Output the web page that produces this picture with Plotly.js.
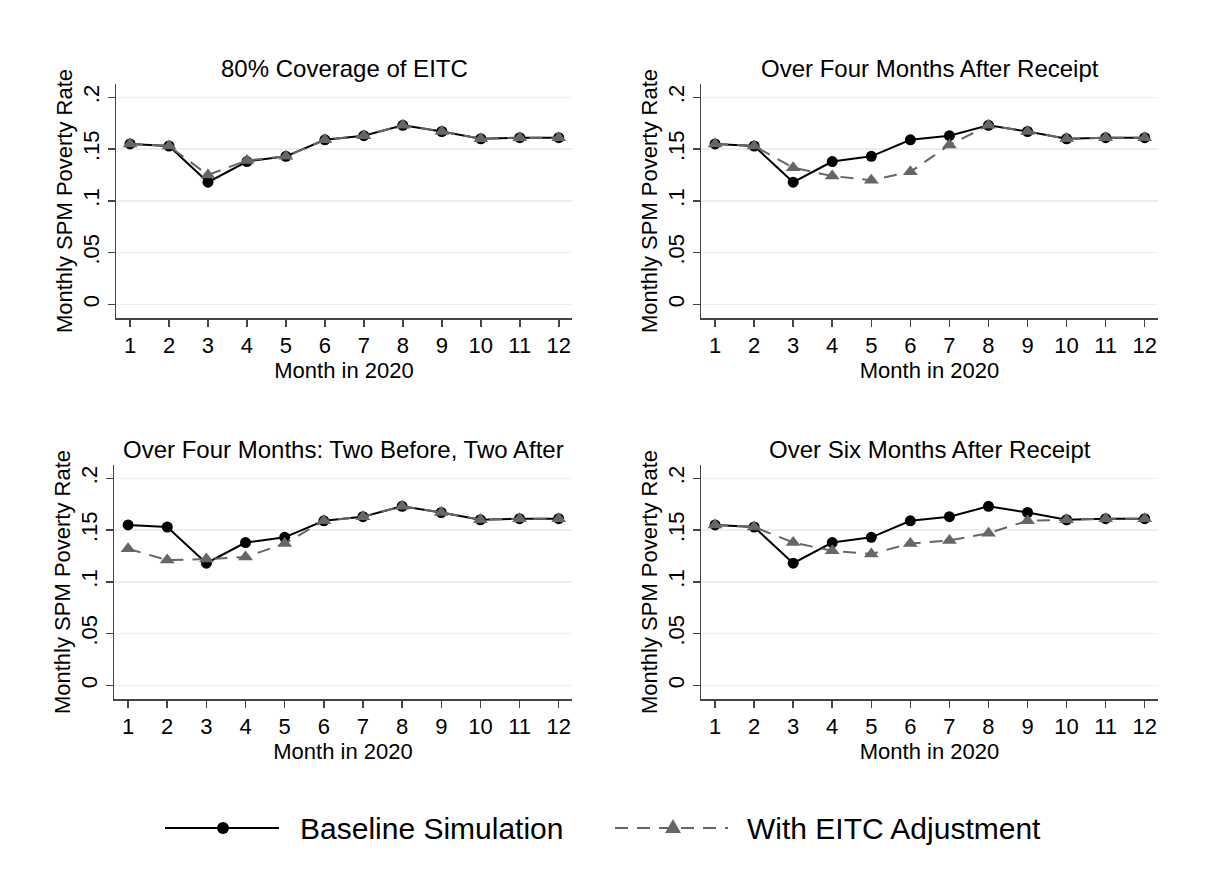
<!DOCTYPE html>
<html>
<head>
<meta charset="utf-8">
<script src="https://cdn.plot.ly/plotly-3.0.1.min.js"></script>
<style>
  html, body { margin: 0; padding: 0; background: #ffffff; }
  #chart { width: 1211px; height: 877px; }
</style>
</head>
<body>
<div id="chart"></div>
<script>
// Months of 2020
const months = [1, 2, 3, 4, 5, 6, 7, 8, 9, 10, 11, 12];

// Baseline monthly SPM poverty rate (same in every panel)
const baseline = [0.155, 0.153, 0.118, 0.138, 0.143, 0.159, 0.163, 0.173, 0.167, 0.160, 0.161, 0.161];

// Poverty rate with the EITC adjustment under each scenario
const eitcCoverage80   = [0.155, 0.153, 0.125, 0.139, 0.143, 0.159, 0.163, 0.173, 0.167, 0.160, 0.161, 0.161];
const eitcFourAfter    = [0.155, 0.153, 0.132, 0.124, 0.120, 0.128, 0.154, 0.173, 0.167, 0.160, 0.161, 0.161];
const eitcTwoBeforeTwoAfter = [0.132, 0.121, 0.122, 0.124, 0.137, 0.159, 0.163, 0.173, 0.167, 0.160, 0.161, 0.161];
const eitcSixAfter     = [0.155, 0.153, 0.138, 0.130, 0.127, 0.137, 0.140, 0.147, 0.159, 0.160, 0.161, 0.161];

const panelTitles = [
  "80% Coverage of EITC",
  "Over Four Months After Receipt",
  "Over Four Months: Two Before, Two After",
  "Over Six Months After Receipt"
];
const panelSeries = [eitcCoverage80, eitcFourAfter, eitcTwoBeforeTwoAfter, eitcSixAfter];

const yTickVals = [0, 0.05, 0.1, 0.15, 0.2];
const yTickText = ["0", ".05", ".1", ".15", ".2"];
const seriesNames = ["Baseline Simulation", "With EITC Adjustment"];

const FONT = "Liberation Sans, Arial, sans-serif";
const W = 1211, H = 877;
const BASE_COLOR = "#000000";
const EITC_COLOR = "#666666";
const EITC_DASH = "13px,9px";

// Plot-region boxes in pixels: [left, right, top, bottom]
const boxes = [
  [116, 572, 84, 318],
  [701, 1158, 84, 318],
  [114, 572, 465, 699],
  [701, 1158, 465, 699]
];

const px = v => v / W;          // horizontal pixel -> paper
const py = v => 1 - v / H;      // vertical pixel -> paper

const traces = [];
const layout = {
  width: W, height: H,
  margin: {l: 0, r: 0, t: 0, b: 0},
  paper_bgcolor: "#ffffff",
  plot_bgcolor: "#ffffff",
  font: {family: FONT, color: "#000000"},
  showlegend: false,
  annotations: [],
  shapes: []
};

panelSeries.forEach((series, i) => {
  const n = i === 0 ? "" : String(i + 1);
  const [l, r, t, b] = boxes[i];

  traces.push({
    x: months, y: baseline,
    xaxis: "x" + n, yaxis: "y" + n,
    type: "scatter", mode: "lines+markers",
    name: seriesNames[0],
    line: {color: BASE_COLOR, width: 2},
    marker: {symbol: "circle", size: 11, color: BASE_COLOR}
  });
  traces.push({
    x: months, y: series,
    xaxis: "x" + n, yaxis: "y" + n,
    type: "scatter", mode: "lines+markers",
    name: seriesNames[1],
    line: {color: EITC_COLOR, width: 2, dash: EITC_DASH},
    marker: {symbol: "triangle-up", size: 13, color: EITC_COLOR}
  });

  layout["xaxis" + n] = {
    domain: [px(l), px(r)],
    anchor: "y" + n,
    range: [0.64, 12.34],
    tickvals: months,
    ticks: "outside", ticklen: 7, tickwidth: 1.5, tickcolor: "#444444",
    showline: true, linecolor: "#444444", linewidth: 1.5,
    showgrid: false, zeroline: false,
    tickfont: {family: FONT, size: 22, color: "#000000"},
    title: {text: "Month in 2020", font: {family: FONT, size: 22, color: "#000000"}, standoff: 0}
  };
  layout["yaxis" + n] = {
    domain: [py(b), py(t)],
    anchor: "x" + n,
    range: [-0.0132, 0.2129],
    tickvals: yTickVals, ticktext: yTickText,
    tickangle: -90,
    ticks: "outside", ticklen: 7, tickwidth: 1.5, tickcolor: "#444444",
    showline: true, linecolor: "#444444", linewidth: 1.5,
    showgrid: true, gridcolor: "#e8f0f2", gridwidth: 1.5,
    zeroline: false,
    tickfont: {family: FONT, size: 22, color: "#000000"},
    title: {text: "Monthly SPM Poverty Rate", font: {family: FONT, size: 22, color: "#000000"}, standoff: 0}
  };

  layout.annotations.push({
    text: panelTitles[i],
    xref: "paper", yref: "paper",
    x: px((l + r) / 2), y: py(t - 16),
    xanchor: "center", yanchor: "middle",
    showarrow: false,
    font: {family: FONT, size: 24, color: "#000000"}
  });
});

// Legend row below the panels
const legendY = 828;
layout.shapes.push(
  {type: "line", xref: "paper", yref: "paper",
   x0: px(165), x1: px(279), y0: py(legendY), y1: py(legendY),
   line: {color: BASE_COLOR, width: 2}},
  {type: "circle", xref: "paper", yref: "paper",
   x0: px(217), x1: px(229), y0: py(legendY + 6), y1: py(legendY - 6),
   fillcolor: BASE_COLOR, line: {color: BASE_COLOR, width: 0}},
  {type: "line", xref: "paper", yref: "paper",
   x0: px(615), x1: px(728), y0: py(legendY), y1: py(legendY),
   line: {color: EITC_COLOR, width: 2, dash: EITC_DASH}},
  {type: "path", xref: "paper", yref: "paper",
   path: `M${px(665)},${py(legendY + 5)} L${px(681)},${py(legendY + 5)} L${px(673)},${py(legendY - 9)} Z`,
   fillcolor: EITC_COLOR, line: {color: EITC_COLOR, width: 0}}
);
layout.annotations.push(
  {text: seriesNames[0], xref: "paper", yref: "paper",
   x: px(298), y: py(legendY), xanchor: "left", yanchor: "middle",
   showarrow: false, font: {family: FONT, size: 30, color: "#000000"}},
  {text: seriesNames[1], xref: "paper", yref: "paper",
   x: px(745), y: py(legendY), xanchor: "left", yanchor: "middle",
   showarrow: false, font: {family: FONT, size: 30, color: "#000000"}}
);

Plotly.newPlot("chart", traces, layout, {staticPlot: true});
</script>
</body>
</html>
